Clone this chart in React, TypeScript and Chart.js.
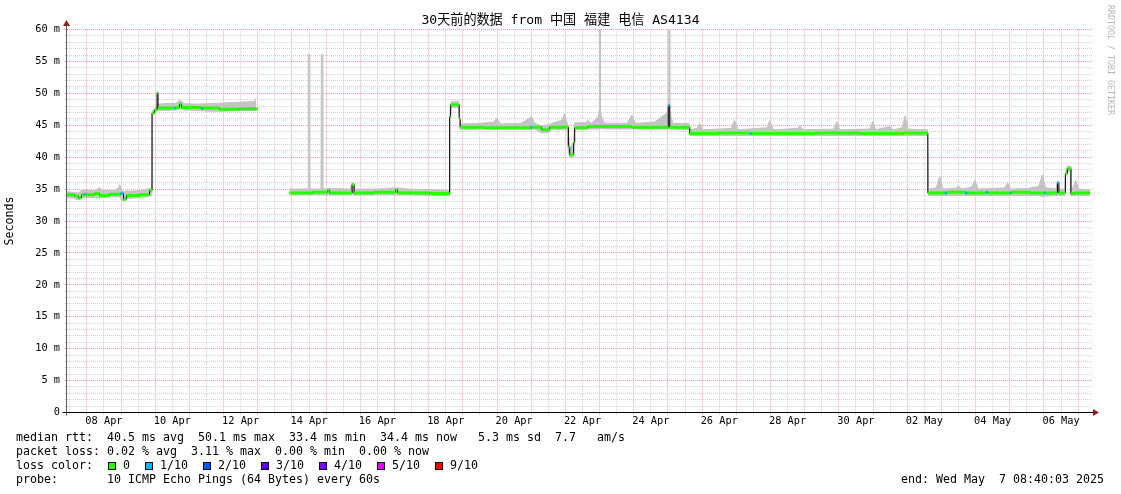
import React, { useEffect, useRef } from 'react';
import { Chart, registerables } from 'chart.js';

Chart.register(...registerables);

const TITLE = '30天前的数据 from 中国 福建 电信 AS4134';
const Y_AXIS_TITLE = 'Seconds';
const WATERMARK = 'RRDTOOL / TOBI OETIKER';
const END_TEXT = 'end: Wed May  7 08:40:03 2025';

// x values: days since 07 Apr 2025 00:00
const X_MIN = 0.405;
const X_MAX = 30.405;
const Y_MIN = 0;
const Y_MAX = 60;

const xLabelDays = [1.5, 3.5, 5.5, 7.5, 9.5, 11.5, 13.5, 15.5, 17.5, 19.5, 21.5, 23.5, 25.5, 27.5, 29.5];
const xTickLabels = ['08 Apr', '10 Apr', '12 Apr', '14 Apr', '16 Apr', '18 Apr', '20 Apr', '22 Apr', '24 Apr', '26 Apr', '28 Apr', '30 Apr', '02 May', '04 May', '06 May'];
const yLabelValues = [0, 5, 10, 15, 20, 25, 30, 35, 40, 45, 50, 55, 60];
const yTickLabels = ['0', '5 m', '10 m', '15 m', '20 m', '25 m', '30 m', '35 m', '40 m', '45 m', '50 m', '55 m', '60 m'];

// median rtt (ms), step starts (days), loss level (x/10)
const medT = [0.405, 0.639, 0.756, 0.844, 0.932, 0.990, 1.224, 1.371, 1.663, 1.985, 2.073, 2.161, 2.541, 2.834,
  2.907, 2.980, 3.054, 3.083, 3.566, 3.610, 3.712, 3.771, 4.356, 4.400, 4.883, 5.468,
  5.995,
  6.931, 7.600, 8.043, 8.102, 8.760, 8.819, 9.400, 10.033, 10.092, 11.028,
  11.614, 11.643, 11.892, 11.921, 12.600, 13.984, 14.030, 14.306, 14.540, 15.087, 15.125, 15.242, 15.272, 15.652, 16.940, 18.008, 18.052,
  18.637, 19.500, 20.400, 20.450, 21.000, 22.300, 23.600, 24.900,
  25.603, 26.100, 26.160, 26.700, 26.760, 27.300, 27.350, 28.000, 28.050, 28.600, 29.000, 29.050, 29.393, 29.437, 29.627, 29.686, 29.788, 29.900, 30.344];
const medV = [34.1, 33.9, 33.6, 34.1, 34.2, 34.1, 34.3, 34.0, 34.2, 34.3, 33.4, 34.0, 34.1, 34.8,
  46.9, 47.4, 50.1, 47.7, 47.7, 47.8, 48.3, 47.8, 47.6, 47.7, 47.5, 47.6,
  null,
  34.4, 34.5, 34.8, 34.4, 35.7, 34.4, 34.5, 34.9, 34.4, 34.3,
  46.3, 48.2, 46.0, 44.7, 44.6, 44.7, 44.7, 44.3, 44.7, 41.6, 40.4, 42.2, 44.6, 44.8, 44.7, 48.1, 44.7,
  43.7, 43.8, 43.7, 43.7, 43.7, 43.8, 43.7, 43.8,
  34.4, 34.4, 34.5, 34.4, 34.4, 34.5, 34.4, 34.4, 34.5, 34.4, 34.4, 34.4, 36.0, 34.4, 37.4, 38.2, 34.3, 34.4, 34.4];
const medL = [0, 0, 0, 0, 1, 0, 0, 0, 0, 1, 0, 0, 0, 0,
  0, 0, 0, 0, 1, 0, 0, 0, 1, 0, 0, 0,
  0,
  0, 0, 0, 0, 0, 0, 0, 0, 0, 0,
  0, 0, 0, 0, 0, 1, 0, 0, 0, 0, 0, 0, 0, 0, 0, 1, 0,
  0, 0, 1, 0, 0, 0, 0, 0,
  0, 1, 0, 1, 0, 1, 0, 1, 0, 0, 1, 0, 1, 0, 0, 0, 0, 0, 0];

// smoke (ping spread) in ms
const smT = [0.405, 0.60, 0.75, 0.85, 1.00, 1.20, 1.37, 1.45, 1.80, 1.93, 1.96, 2.00, 2.08, 2.15, 2.40, 2.60, 2.84, 2.905,
  2.915, 3.04, 3.06, 3.30, 3.60, 3.72, 3.85, 4.20, 4.60, 5.00, 5.40, 5.90, 5.96,
  5.995,
  6.931, 7.470, 7.480, 7.510, 7.520, 7.850, 7.860, 7.890, 7.900, 8.10, 8.70, 8.76, 8.84, 9.50, 10.03, 10.40, 11.00, 11.60,
  11.62, 11.66, 11.88, 11.92, 12.50, 12.90, 12.99, 13.10, 13.70, 13.95, 14.00, 14.10, 14.30, 14.54, 14.60, 14.90, 14.98, 15.05,
  15.08, 15.125, 15.24, 15.27, 15.60, 15.65, 15.75, 15.95, 15.990, 15.993, 16.020, 16.023, 16.08, 16.15, 16.80, 16.94, 17.05, 17.60, 17.95,
  18.020, 18.023, 18.050, 18.053, 18.09, 18.15, 18.62,
  18.65, 18.85, 18.93, 19.02, 19.85, 19.95, 20.05, 20.90, 20.98, 21.08, 21.80, 21.86, 21.95, 22.85, 22.94, 23.03, 23.90, 23.99, 24.08,
  24.49, 24.60, 24.85, 24.94, 25.03, 25.59,
  25.62, 25.85, 25.95, 26.05, 26.40, 26.50, 26.60, 26.88, 26.98, 27.08, 27.85, 27.94, 28.03, 28.50, 28.85, 28.95, 29.05,
  29.35, 29.39, 29.45, 29.61, 29.63, 29.69, 29.77, 29.79, 29.85, 29.93, 30.02, 30.344];
const smHi = [34.6, 34.5, 34.4, 34.8, 34.9, 34.7, 35.2, 34.8, 34.8, 35.2, 35.7, 35.0, 34.6, 34.7, 34.7, 34.8, 35.1, 35.1,
  47.2, 47.9, 48.3, 48.4, 48.4, 48.9, 48.4, 48.3, 48.4, 48.5, 48.6, 48.7, 49.3,
  null,
  35.0, 35.0, 56.1, 56.1, 35.0, 35.0, 56.1, 56.1, 35.0, 35.1, 35.0, 36.0, 35.0, 35.0, 35.2, 35.0, 34.9, 34.8,
  47.0, 48.7, 48.7, 45.2, 45.3, 45.5, 46.1, 45.2, 45.3, 46.1, 46.4, 45.3, 44.9, 45.1, 45.3, 45.8, 46.9, 45.3,
  45.0, 41.2, 42.6, 45.4, 45.4, 45.8, 45.3, 46.2, 47.3, 60.5, 60.5, 47.3, 46.0, 45.3, 45.3, 46.6, 45.3, 45.5, 46.8,
  47.4, 60.5, 60.5, 47.5, 46.3, 45.3, 45.3,
  44.3, 44.5, 45.3, 44.3, 44.5, 45.8, 44.3, 44.6, 45.8, 44.3, 44.5, 45.0, 44.3, 44.4, 45.6, 44.3, 44.4, 45.6, 44.3,
  44.8, 44.3, 44.6, 46.5, 44.4, 44.3,
  35.0, 35.2, 37.0, 35.0, 35.1, 35.5, 35.0, 35.3, 36.4, 35.0, 35.2, 36.0, 35.0, 35.1, 35.4, 37.2, 35.2,
  35.0, 36.2, 35.0, 35.0, 37.8, 38.6, 38.6, 35.0, 35.2, 36.4, 35.0, 34.9];
const smLo = [33.7, 33.6, 33.3, 33.7, 33.7, 33.7, 33.6, 33.7, 33.8, 33.8, 33.8, 33.3, 33.1, 33.5, 33.6, 33.7, 33.9, 34.0,
  46.6, 47.1, 47.3, 47.3, 47.4, 47.6, 47.4, 47.3, 47.2, 47.2, 47.3, 47.3, 47.3,
  null,
  34.1, 34.1, 34.1, 34.1, 34.1, 34.1, 34.1, 34.1, 34.1, 34.1, 34.1, 34.2, 34.1, 34.1, 34.1, 34.1, 34.0, 34.0,
  46.2, 47.8, 47.8, 44.3, 44.4, 44.4, 44.4, 44.4, 44.4, 44.3, 44.3, 44.4, 43.8, 43.9, 44.4, 44.3, 44.3, 44.3,
  41.3, 39.9, 39.9, 44.3, 44.4, 44.4, 44.4, 44.4, 44.4, 44.4, 44.4, 44.4, 44.5, 44.4, 44.4, 44.4, 44.4, 44.4, 44.4,
  44.4, 44.4, 44.4, 44.4, 44.4, 44.4, 44.3,
  43.4, 43.4, 43.4, 43.4, 43.4, 43.4, 43.4, 43.4, 43.4, 43.4, 43.4, 43.4, 43.4, 43.4, 43.4, 43.4, 43.4, 43.4, 43.4,
  43.4, 43.4, 43.4, 43.4, 43.4, 43.4,
  34.0, 34.0, 34.0, 34.0, 34.0, 34.0, 34.0, 34.0, 34.0, 34.0, 34.0, 34.0, 34.0, 34.0, 34.0, 33.8, 33.9,
  34.0, 34.0, 34.0, 34.0, 37.0, 37.8, 37.8, 34.0, 34.0, 34.0, 34.0, 34.0];

const legendRows = [
  'median rtt:  40.5 ms avg  50.1 ms max  33.4 ms min  34.4 ms now   5.3 ms sd  7.7   am/s',
  'packet loss: 0.02 % avg  3.11 % max  0.00 % min  0.00 % now',
  'loss color:',
  'probe:       10 ICMP Echo Pings (64 Bytes) every 60s',
];
const lossLegendLabels = ['0', '1/10', '2/10', '3/10', '4/10', '5/10', '9/10'];
const lossLegendColors = ['#26ff00', '#00b8ff', '#0059ff', '#5e00ff', '#7e00ff', '#dd00ff', '#ff0000'];
const lossLevels = [0, 1, 2, 3, 4, 5, 9];

const MONO = '"DejaVu Sans Mono", monospace';
const GRID = '#d2d2d2';
const MGRID = '#f0a2a2';
const SMOKE = '#c4c4c4';
const ARROW = '#8a1f1f';

export default function App() {
  const ref = useRef<HTMLCanvasElement>(null);

  useEffect(() => {
    const canvas = ref.current;
    if (!canvas) return;

    const lossColor = (l: number) => lossLegendColors[Math.max(0, lossLevels.indexOf(l))];

    const smokeLoData = smT.map((t, i) => ({ x: t, y: smLo[i] }));
    const smokeHiData = smT.map((t, i) => ({ x: t, y: smHi[i] }));
    const medianData = medT.map((t, i) => ({ x: t, y: medV[i] }));
    const colorData: any[] = [];
    const colorLoss: number[] = [];
    for (let i = 0; i < medT.length - 1; i++) {
      if (medV[i] === null) continue;
      colorData.push({ x: medT[i], y: medV[i] }, { x: medT[i + 1], y: medV[i] }, { x: medT[i + 1], y: null });
      colorLoss.push(medL[i], medL[i], medL[i]);
    }

    const xGrid: number[] = [];
    for (let k = 1; k <= 60; k++) xGrid.push(k * 0.5);
    const yGrid: number[] = [];
    for (let k = 0; k <= 60; k++) yGrid.push(k);

    const overlay = {
      id: 'rrdOverlay',
      afterDraw(chart: any) {
        const ctx = chart.ctx as CanvasRenderingContext2D;
        const a = chart.chartArea;
        ctx.save();
        // axes
        ctx.lineWidth = 1;
        ctx.strokeStyle = '#5a5a5a';
        ctx.beginPath();
        ctx.moveTo(a.left, a.bottom + 3);
        ctx.lineTo(a.left, a.top - 4);
        ctx.stroke();
        ctx.strokeStyle = '#000000';
        ctx.beginPath();
        ctx.moveTo(a.left - 4, a.bottom);
        ctx.lineTo(a.right + 2, a.bottom);
        ctx.stroke();
        // arrows
        ctx.fillStyle = ARROW;
        ctx.beginPath();
        ctx.moveTo(a.left - 3.5, a.top - 3.5);
        ctx.lineTo(a.left + 3.5, a.top - 3.5);
        ctx.lineTo(a.left, a.top - 9.5);
        ctx.closePath();
        ctx.fill();
        ctx.beginPath();
        ctx.moveTo(a.right + 1, a.bottom - 3.5);
        ctx.lineTo(a.right + 1, a.bottom + 3.5);
        ctx.lineTo(a.right + 7, a.bottom);
        ctx.closePath();
        ctx.fill();

        // title
        ctx.fillStyle = '#000';
        ctx.textBaseline = 'middle';
        ctx.textAlign = 'center';
        ctx.font = '13.1px "DejaVu Sans Mono", "Noto Sans CJK SC", monospace';
        ctx.fillText(TITLE, 560.5, 21);

        // legend rows
        ctx.textAlign = 'left';
        ctx.font = '11.63px ' + MONO;
        const rowY = [438, 452, 466, 480];
        legendRows.forEach((r, i) => ctx.fillText(r, 16, rowY[i]));
        let bx = 108;
        lossLegendLabels.forEach((lab, i) => {
          ctx.fillStyle = lossLegendColors[i];
          ctx.fillRect(bx, rowY[2] - 4, 8, 8);
          ctx.strokeStyle = '#000';
          ctx.strokeRect(bx + 0.5, rowY[2] - 3.5, 7, 7);
          ctx.fillStyle = '#000';
          const tx = bx + 15;
          ctx.fillText(lab, tx, rowY[2]);
          bx = tx + ctx.measureText(lab).width + 15;
        });
        ctx.textAlign = 'right';
        ctx.fillText(END_TEXT, 1104, rowY[3]);

        // watermark
        ctx.translate(1110, 5);
        ctx.rotate(Math.PI / 2);
        ctx.textAlign = 'left';
        ctx.fillStyle = '#b8b8b8';
        ctx.font = '8.3px ' + MONO;
        ctx.fillText(WATERMARK, 0, 0);
        ctx.restore();
      },
    };

    const chart = new Chart(canvas, {
      type: 'line',
      data: {
        datasets: [
          { label: 'smokeLo', data: smokeLoData, borderColor: SMOKE, borderWidth: 1, pointRadius: 0, fill: false, order: 3 },
          { label: 'smokeHi', data: smokeHiData, borderColor: SMOKE, backgroundColor: SMOKE, borderWidth: 1, pointRadius: 0, fill: '-1', order: 2 },
          { label: 'median', data: medianData, borderColor: '#000000', borderWidth: 1, pointRadius: 0, stepped: true, order: 1 },
          {
            label: 'loss', data: colorData, borderColor: '#26ff00', borderWidth: 3, pointRadius: 0, order: 0,
            segment: { borderColor: (c: any) => lossColor(colorLoss[c.p0DataIndex]) },
          },
        ] as any,
      },
      plugins: [overlay],
      options: {
        responsive: false,
        animation: false,
        devicePixelRatio: 1,
        events: [],
        layout: { padding: { left: 0, right: 29, top: 29.5, bottom: 61.5 } },
        plugins: { legend: { display: false }, tooltip: { enabled: false }, title: { display: false } },
        scales: {
          x: {
            type: 'linear', min: X_MIN, max: X_MAX, bounds: 'data',
            afterBuildTicks: (s: any) => { s.ticks = xGrid.map((v) => ({ value: v })); },
            afterFit: (s: any) => { s.height = 20; },
            ticks: {
              autoSkip: false, maxRotation: 0, minRotation: 0, padding: 1, color: '#000',
              font: { family: MONO, size: 10.3 },
              callback: (v: any) => { const i = xLabelDays.indexOf(Number(v)); return i >= 0 ? xTickLabels[i] : ''; },
            },
            grid: { color: (c: any) => (c.tick && c.tick.value % 1 === 0 ? MGRID : GRID), lineWidth: 1, drawTicks: true, tickLength: 2 },
            border: { display: false, dash: [1, 1] },
          },
          y: {
            type: 'linear', min: Y_MIN, max: Y_MAX, bounds: 'data',
            afterBuildTicks: (s: any) => { s.ticks = yGrid.map((v) => ({ value: v })); },
            afterFit: (s: any) => { s.width = 66.5; },
            ticks: {
              autoSkip: false, padding: 4.5, color: '#000',
              font: { family: MONO, size: 10.3 },
              callback: (v: any) => { const i = yLabelValues.indexOf(Number(v)); return i >= 0 ? yTickLabels[i] : ''; },
            },
            grid: { color: (c: any) => (c.tick && c.tick.value % 5 === 0 ? MGRID : GRID), lineWidth: 1, drawTicks: true, tickLength: 2 },
            border: { display: false, dash: [1, 1] },
            title: { display: true, text: Y_AXIS_TITLE, color: '#000', font: { family: MONO, size: 11.6 }, padding: { top: 3.5, bottom: 0 } },
          },
        },
      } as any,
    });
    return () => chart.destroy();
  }, []);

  return (
    <div style={{ position: 'absolute', left: 0, top: 0, width: 1121, height: 494, background: '#ffffff' }}>
      <canvas ref={ref} width={1121} height={494} style={{ display: 'block' }} />
    </div>
  );
}
